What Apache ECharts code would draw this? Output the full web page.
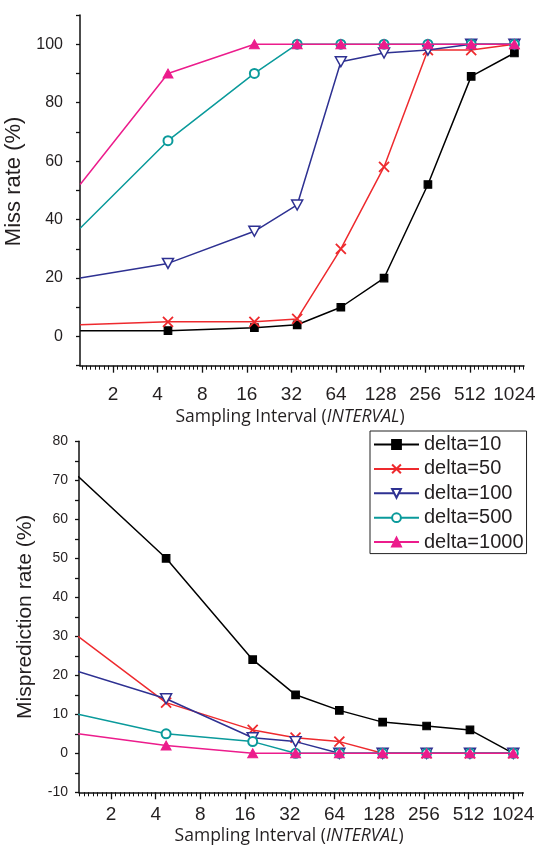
<!DOCTYPE html>
<html>
<head>
<meta charset="utf-8">
<script src="https://cdn.jsdelivr.net/npm/echarts@6/dist/echarts.min.js"></script>
<style>
  html, body { margin: 0; padding: 0; background: #fff; }
  #chart { width: 540px; height: 846px; }
</style>
</head>
<body>
<div id="chart"></div>
<script>
// Sampling interval (INTERVAL) of each measurement
const intervals = [1.2, 4.7, 18, 35, 69, 135, 267, 523, 1024];
// Labelled ticks on the log2 interval axis
const tickIntervals = [2, 4, 8, 16, 32, 64, 128, 256, 512, 1024];
const deltaNames = ['delta=10', 'delta=50', 'delta=100', 'delta=500', 'delta=1000'];

// Miss rate (%)
const missDelta10   = [2, 2, 3, 4, 10, 20, 52, 89, 97];
const missDelta50   = [4, 5, 5, 6, 30, 58, 98, 98, 100];
const missDelta100  = [20, 25, 36, 45, 94, 97, 98, 100, 100];
const missDelta500  = [37, 67, 90, 100, 100, 100, 100, 100, 100];
const missDelta1000 = [52, 90, 100, 100, 100, 100, 100, 100, 100];

// Misprediction rate (%)
const mispDelta10   = [71, 50, 24, 15, 11, 8, 7, 6, 0];
const mispDelta50   = [30, 13, 6, 4, 3, 0, 0, 0, 0];
const mispDelta100  = [21, 14, 4, 3, 0, 0, 0, 0, 0];
const mispDelta500  = [10, 5, 3, 0, 0, 0, 0, 0, 0];
const mispDelta1000 = [5, 2, 0, 0, 0, 0, 0, 0, 0];

const INK = '#231f20';
const SANS = '"Liberation Sans", Arial, sans-serif';
const HUMANIST = '"Open Sans", "Noto Sans", sans-serif';

const styles = [
  { color: '#000000', symbol: 'rect', size: 7.5, fill: '#000000', border: 1.2 },
  { color: '#ee2a2e', symbol: 'path://M0,0 L10,10 M10,0 L0,10', size: 10, fill: '#ee2a2e', border: 1.8 },
  { color: '#2e3192', symbol: 'path://M0,0 L12,0 L6,10 Z', size: [11, 10], fill: '#ffffff', border: 1.5 },
  { color: '#0a9a9b', symbol: 'emptyCircle', size: 9, fill: '#0a9a9b', border: 1.5 },
  { color: '#ec1c8c', symbol: 'triangle', size: [10, 9], fill: '#ec1c8c', border: 1 }
];

const log2 = v => Math.log(v) / Math.LN2;
const tickLogs = tickIntervals.map(log2);

function minorLogs(lo, hi) {
  const out = [];
  for (let k = Math.ceil(lo * 10); k <= Math.floor(hi * 10); k++) {
    if (k % 10 !== 0) out.push(k / 10);
  }
  return out;
}

// Plot areas: 0 = miss rate, 1 = misprediction rate.
// Thin strips 2 and 3 straddle their bottom edges; their x axes rest on
// the strip's zero line and only carry the short minor ticks.
const topBox = { left: 80, right: 16, top: 15, bottom: 480.3 };
const botBox = { left: 79, right: 16.7, top: 441.3, bottom: 53.7 };
const topStrip = { left: 80, right: 16, top: 355.7, bottom: 470.3 };
const botStrip = { left: 79, right: 16.7, top: 782.3, bottom: 43.7 };
const topRange = [0.26, 10.215];
const botRange = [0.284, 10.224];

function plotGrid(box) {
  return Object.assign({ containLabel: false, outerBoundsMode: 'none' }, box);
}
function stripGrid(box) {
  return Object.assign({ containLabel: false }, box);
}

function majorAxis(gridIndex, range, labelMargin, nameGap) {
  return {
    type: 'value', gridIndex: gridIndex, position: 'bottom',
    min: range[0], max: range[1],
    axisLine: { show: true, onZero: false, lineStyle: { color: '#111', width: 1.5 } },
    axisTick: { show: true, length: 7, customValues: tickLogs, lineStyle: { color: '#111', width: 1.3 } },
    axisLabel: {
      show: true, customValues: tickLogs, margin: labelMargin,
      color: INK, fontSize: 19, fontFamily: SANS,
      formatter: v => String(Math.round(Math.pow(2, v)))
    },
    splitLine: { show: false },
    name: '{n|Sampling Interval (}{i|INTERVAL}{n|)}',
    nameLocation: 'middle', nameGap: nameGap,
    nameTextStyle: {
      padding: [0, 24, 0, 0],
      rich: {
        n: { fontSize: 17.5, fontFamily: HUMANIST, color: INK },
        i: { fontSize: 17.5, fontFamily: HUMANIST, color: INK, fontStyle: 'italic' }
      }
    }
  };
}

function minorAxis(gridIndex, range) {
  return {
    type: 'value', gridIndex: gridIndex, position: 'bottom',
    min: range[0], max: range[1],
    axisLine: { show: false },
    axisTick: { show: true, length: 4, customValues: minorLogs(range[0], range[1]), lineStyle: { color: '#111', width: 1 } },
    axisLabel: { show: false },
    splitLine: { show: false }
  };
}

function stripY(gridIndex) {
  return {
    type: 'value', gridIndex: gridIndex, min: -1, max: 1,
    axisLine: { show: false }, axisTick: { show: false },
    axisLabel: { show: false }, splitLine: { show: false }
  };
}

function buildSeries(values, i, xIdx, yIdx) {
  const st = styles[i];
  return {
    type: 'line', name: deltaNames[i],
    xAxisIndex: xIdx, yAxisIndex: yIdx,
    data: values.map((y, k) => {
      const item = { value: [log2(intervals[k]), y] };
      // the first measurement sits on the y axis itself
      if (k === 0) item.symbol = 'none';
      return item;
    }),
    symbol: st.symbol, symbolSize: st.size,
    showAllSymbol: true,
    lineStyle: { color: st.color, width: 1.5 },
    itemStyle: { color: st.fill, borderColor: st.color, borderWidth: st.border },
    emphasis: { disabled: true },
    z: 2 + i
  };
}

const missSets = [missDelta10, missDelta50, missDelta100, missDelta500, missDelta1000];
const mispSets = [mispDelta10, mispDelta50, mispDelta100, mispDelta500, mispDelta1000];

const option = {
  animation: false,
  backgroundColor: '#ffffff',
  grid: [plotGrid(topBox), plotGrid(botBox), stripGrid(topStrip), stripGrid(botStrip)],
  xAxis: [
    majorAxis(0, topRange, 20, 42),
    majorAxis(1, botRange, 13, 35),
    minorAxis(2, topRange),
    minorAxis(3, botRange)
  ],
  yAxis: [
    {
      type: 'value', gridIndex: 0, min: -10, max: 110, interval: 10,
      axisLine: { show: true, onZero: false, lineStyle: { color: '#111', width: 1.5 } },
      axisTick: { show: true, length: 4, lineStyle: { color: '#111', width: 1.3 } },
      axisLabel: {
        margin: 17, color: INK, fontSize: 16, fontFamily: SANS,
        formatter: v => (v >= 0 && v <= 100 && v % 20 === 0) ? String(v) : ''
      },
      splitLine: { show: false },
      name: 'Miss rate (%)', nameLocation: 'middle', nameGap: 46,
      nameTextStyle: { fontSize: 22, fontFamily: SANS, color: INK, padding: [0, 0, 0, 18] }
    },
    {
      type: 'value', gridIndex: 1, min: -10, max: 80, interval: 5,
      axisLine: { show: true, onZero: false, lineStyle: { color: '#111', width: 1.5 } },
      axisTick: { show: true, length: 4, lineStyle: { color: '#111', width: 1.3 } },
      axisLabel: {
        margin: 11, color: INK, fontSize: 14, fontFamily: SANS,
        formatter: v => (v % 10 === 0) ? String(v) : ''
      },
      splitLine: { show: false },
      name: 'Misprediction rate (%)', nameLocation: 'middle', nameGap: 43,
      nameTextStyle: { fontSize: 21, fontFamily: SANS, color: INK }
    },
    stripY(2),
    stripY(3)
  ],
  legend: {
    data: deltaNames,
    orient: 'vertical',
    left: 370, top: 431,
    itemWidth: 45, itemHeight: 11, itemGap: 4.4,
    padding: [3.5, 3, 1.5, 3],
    borderColor: '#222', borderWidth: 1,
    backgroundColor: '#ffffff',
    selectedMode: false,
    textStyle: { fontSize: 20, fontFamily: SANS, color: INK, lineHeight: 20 }
  },
  series: [
    ...missSets.map((vals, i) => buildSeries(vals, i, 0, 0)),
    ...mispSets.map((vals, i) => buildSeries(vals, i, 1, 1))
  ]
};

const chart = echarts.init(document.getElementById('chart'), null, { renderer: 'canvas' });
chart.setOption(option);
</script>
</body>
</html>
